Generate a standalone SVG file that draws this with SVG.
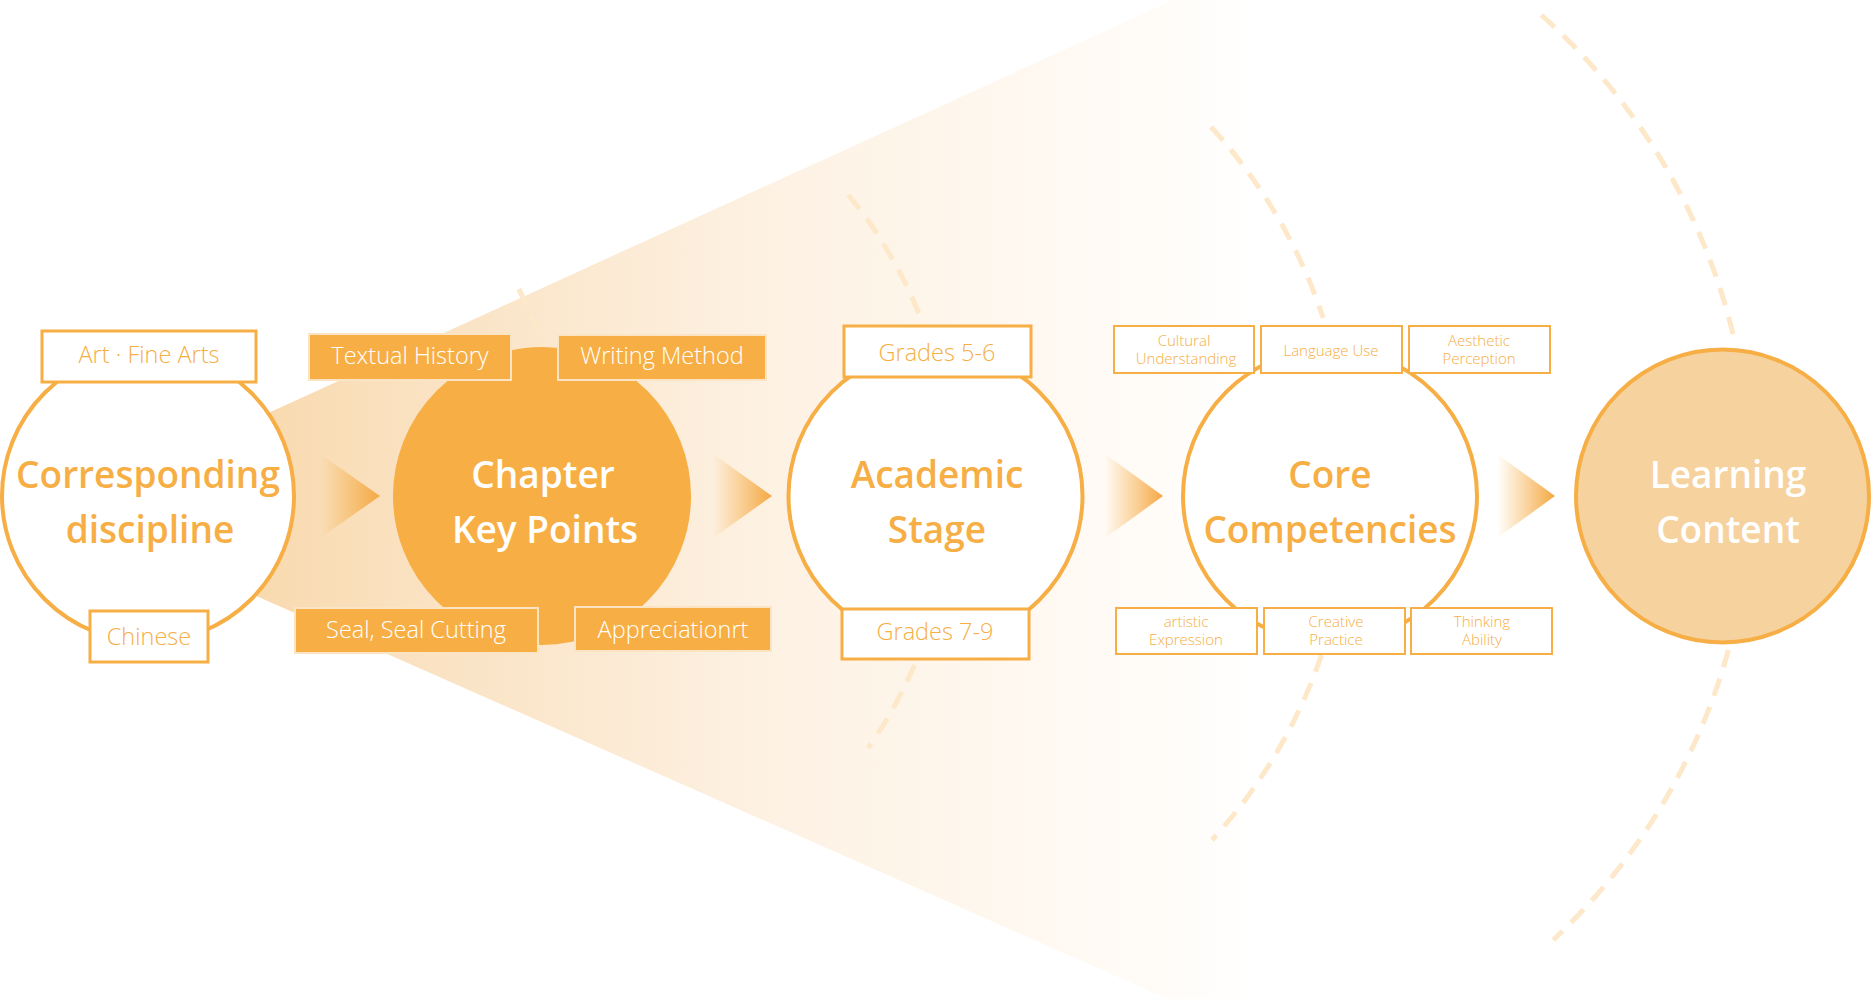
<svg xmlns="http://www.w3.org/2000/svg" width="1872" height="999" viewBox="0 0 1872 999">
<defs>
<linearGradient id="fanGrad" gradientUnits="userSpaceOnUse" x1="150" y1="0" x2="1260" y2="0">
<stop offset="0" stop-color="#F8D5A4"/>
<stop offset="0.25" stop-color="#FAE2C2"/>
<stop offset="0.55" stop-color="#FDF1E2"/>
<stop offset="0.85" stop-color="#FFFAF4"/>
<stop offset="1" stop-color="#FFFFFF"/>
</linearGradient>
<linearGradient id="arrowGrad" x1="0" y1="0" x2="1" y2="0">
<stop offset="0" stop-color="#F6AE45" stop-opacity="0"/>
<stop offset="1" stop-color="#F4A843" stop-opacity="1"/>
</linearGradient>
<style>
.ring{fill:#FFFFFF;stroke:#F6AE45;stroke-width:4}
.ringFill{fill:#F7AF45;stroke:#F7AF45;stroke-width:4}
.ringSoft{fill:#F6D29E;stroke:#F6AE45;stroke-width:4}
.box{fill:#FFFFFF;stroke:#F6AE45;stroke-width:3}
.boxS{fill:#FFFFFF;stroke:#F6AE45;stroke-width:2}
.boxF{fill:#F7AF45;stroke:#FBE4C4;stroke-width:2}
.dash{fill:none;stroke:#FDE8CA;stroke-width:5;stroke-dasharray:18 12}
.title{font-family:"Open Sans","Noto Sans","Liberation Sans",sans-serif;font-size:37px;font-weight:600;text-anchor:middle;fill:#F6AE45}
.titleW{fill:#FFFFFF}
.lbl{font-family:"Open Sans","Noto Sans","Liberation Sans",sans-serif;font-size:23.5px;font-weight:350;text-anchor:middle;fill:#F6AE45}
.lblW{fill:#FFFFFF}
.sm{font-family:"Open Sans","Noto Sans","Liberation Sans",sans-serif;font-size:15px;font-weight:300;text-anchor:middle;fill:#F6AE45}
</style>
</defs>
<rect width="1872" height="999" fill="#FFFFFF"/>

<g id="background">
<polygon points="150,467 1272,-45 1272,1045 150,549" fill="url(#fanGrad)"/>
<path class="dash" d="M518.75,289 A426,426 0 0 1 543.7,348"/>
<path class="dash" d="M848.4,195 A455,455 0 0 1 923.3,325"/>
<path class="dash" d="M914.5,665 A455,455 0 0 1 868,748"/>
<path class="dash" d="M1211,127 A528,528 0 0 1 1323.2,318"/>
<path class="dash" d="M1321.5,655 A528,528 0 0 1 1212,840"/>
<path class="dash" d="M1541.3,15 A627,627 0 0 1 1735.6,345"/>
<path class="dash" d="M1728.4,650 A627,627 0 0 1 1553.3,940"/>
</g>

<g id="connectors">
<polygon points="320,454 380,496 320,538" fill="url(#arrowGrad)"/>
<polygon points="713,454 772,496 713,538" fill="url(#arrowGrad)"/>
<polygon points="1105,454 1163,496 1105,538" fill="url(#arrowGrad)"/>
<polygon points="1497,454 1555,496 1497,538" fill="url(#arrowGrad)"/>
</g>

<g id="node-discipline">
<circle class="ring" cx="148" cy="496" r="146"/>
<text class="title" x="148" y="488">Corresponding</text>
<text class="title" x="150" y="543">discipline</text>
<rect class="box" x="42" y="331" width="214" height="51"/>
<text class="lbl" x="149" y="363">Art · Fine Arts</text>
<rect class="box" x="90" y="611" width="118" height="51"/>
<text class="lbl" x="149" y="645">Chinese</text>
</g>

<g id="node-chapter">
<circle class="ringFill" cx="542" cy="496" r="147"/>
<text class="title titleW" x="543" y="488">Chapter</text>
<text class="title titleW" x="545" y="543">Key Points</text>
<rect class="boxF" x="309" y="334" width="202" height="46"/>
<text class="lbl lblW" x="410" y="364">Textual History</text>
<rect class="boxF" x="558" y="335" width="208" height="45"/>
<text class="lbl lblW" x="662" y="364">Writing Method</text>
<rect class="boxF" x="295" y="608" width="243" height="45"/>
<text class="lbl lblW" x="416" y="638">Seal, Seal Cutting</text>
<rect class="boxF" x="575" y="607" width="196" height="44"/>
<text class="lbl lblW" x="673" y="638">Appreciationrt</text>
</g>

<g id="node-stage">
<circle class="ring" cx="935.5" cy="496" r="147"/>
<text class="title" x="937" y="488">Academic</text>
<text class="title" x="937" y="543">Stage</text>
<rect class="box" x="844" y="326" width="187" height="51"/>
<text class="lbl" x="937" y="361">Grades 5-6</text>
<rect class="box" x="842" y="609" width="187" height="50"/>
<text class="lbl" x="935" y="640">Grades 7-9</text>
</g>

<g id="node-competencies">
<circle class="ring" cx="1330" cy="496" r="147"/>
<text class="title" x="1330" y="488">Core</text>
<text class="title" x="1330" y="543">Competencies</text>
<rect class="boxS" x="1114" y="326" width="140" height="47"/>
<text class="sm"><tspan x="1184" y="346">Cultural</tspan><tspan x="1186" y="364">Understanding</tspan></text>
<rect class="boxS" x="1261" y="326" width="141" height="47"/>
<text class="sm" x="1331" y="356">Language Use</text>
<rect class="boxS" x="1409" y="326" width="141" height="47"/>
<text class="sm"><tspan x="1479" y="346">Aesthetic</tspan><tspan x="1479" y="364">Perception</tspan></text>
<rect class="boxS" x="1116" y="608" width="141" height="46"/>
<text class="sm"><tspan x="1186" y="627">artistic</tspan><tspan x="1186" y="645">Expression</tspan></text>
<rect class="boxS" x="1264" y="608" width="141" height="46"/>
<text class="sm"><tspan x="1336" y="627">Creative</tspan><tspan x="1336" y="645">Practice</tspan></text>
<rect class="boxS" x="1411" y="608" width="141" height="46"/>
<text class="sm"><tspan x="1482" y="627">Thinking</tspan><tspan x="1482" y="645">Ability</tspan></text>
</g>

<g id="node-learning">
<circle class="ringSoft" cx="1722.5" cy="496" r="146.5"/>
<text class="title titleW" x="1728" y="488" font-weight="500">Learning</text>
<text class="title titleW" x="1728" y="543" font-weight="500">Content</text>
</g>
</svg>
